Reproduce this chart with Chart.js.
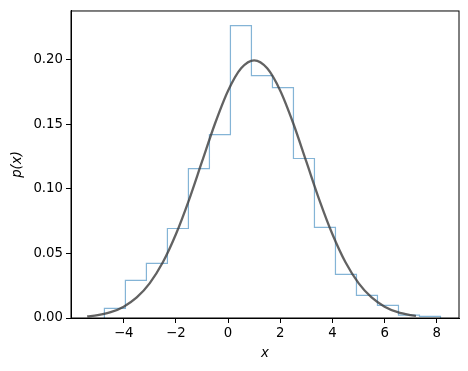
<!DOCTYPE html>
<html>
<head>
<meta charset="utf-8">
<script src="https://cdn.jsdelivr.net/npm/chart.js@4/dist/chart.umd.min.js"></script>
<style>
    html, body { margin: 0; padding: 0; background: #fff; }
    #wrap { width: 468px; height: 371px; }
</style>
</head>
<body>
<div id="wrap"><canvas id="grafico" width="468" height="371"></canvas></div>
<script>
// ====================== DADOS ======================
// bordas das classes do histograma
const binEdges = [-4.74, -3.935, -3.13, -2.325, -1.52, -0.715, 0.09, 0.895, 1.70,
                  2.505, 3.31, 4.115, 4.92, 5.725, 6.53, 7.335, 8.14];
// densidade de cada classe
const binHeights = [0.0075, 0.0291, 0.0423, 0.0693, 0.1157, 0.1420, 0.2263, 0.1876,
                    0.1783, 0.1235, 0.0701, 0.0338, 0.0175, 0.0098, 0.0023, 0.0013];

// curva de densidade
const curveX = [-5.4, -5, -4.5, -4, -3.5, -3, -2.5, -2, -1.5, -1, -0.5, 0, 0.5, 1,
                1.5, 2, 2.5, 3, 3.5, 4, 4.5, 5, 5.5, 6, 6.5, 7, 7.2];
const curveY = [0.0012, 0.0022, 0.0045, 0.0088, 0.0159, 0.0270, 0.0431, 0.0648, 0.0913,
                0.1210, 0.1506, 0.1760, 0.1933, 0.1995, 0.1933, 0.1760, 0.1506, 0.1210,
                0.0913, 0.0648, 0.0431, 0.0270, 0.0159, 0.0088, 0.0045, 0.0022, 0.0016];

const xTicks = [-4, -2, 0, 2, 4, 6, 8];
const yTicks = [0, 0.05, 0.10, 0.15, 0.20];

// ====================== MONTAGEM ======================
// contorno em degraus: sobe na borda esquerda, desce na borda direita
const histPoints = [{ x: binEdges[0], y: 0 }];
binHeights.forEach((h, i) => {
    histPoints.push({ x: binEdges[i], y: h });
    histPoints.push({ x: binEdges[i + 1], y: h });
});
histPoints.push({ x: binEdges[binEdges.length - 1], y: 0 });

const curvePoints = curveX.map((x, i) => ({ x: x, y: curveY[i] }));

const fonte = { family: "'DejaVu Sans', sans-serif", size: 13.3 };

// moldura dos quatro lados
const moldura = {
    id: "moldura",
    afterDraw(chart) {
        const a = chart.chartArea;
        const c = chart.ctx;
        c.save();
        c.strokeStyle = "#000";
        c.lineWidth = 1;
        c.strokeRect(a.left, a.top, a.right - a.left, a.bottom - a.top);
        c.restore();
    }
};

function fmtMenos(v) {
    return String(v).replace("-", "\u2212");
}

new Chart(document.getElementById("grafico"), {
    type: "scatter",
    data: {
        datasets: [
            {
                data: curvePoints,
                showLine: true,
                borderColor: "rgba(64,64,64,0.82)",
                borderWidth: 2.3,
                pointRadius: 0,
                cubicInterpolationMode: "monotone",
                order: 1
            },
            {
                data: histPoints,
                showLine: true,
                borderColor: "rgba(31,119,180,0.55)",
                borderWidth: 1.2,
                pointRadius: 0,
                tension: 0,
                order: 2
            }
        ]
    },
    options: {
        responsive: false,
        animation: false,
        layout: { padding: { top: 10, right: 9, left: 0, bottom: 0 } },
        plugins: {
            legend: { display: false },
            tooltip: { enabled: false }
        },
        scales: {
            x: {
                type: "linear",
                min: -6.02,
                max: 8.85,
                afterFit: scale => { scale.height = 53; },
                afterBuildTicks: scale => {
                    scale.ticks = xTicks.map(v => ({ value: v }));
                },
                ticks: {
                    color: "#000",
                    font: fonte,
                    padding: 3,
                    maxRotation: 0,
                    callback: v => fmtMenos(v)
                },
                grid: {
                    display: true,
                    drawOnChartArea: false,
                    drawTicks: true,
                    tickLength: 5,
                    color: "#000"
                },
                border: { display: true, color: "#000", width: 1 },
                title: {
                    display: true,
                    text: "x",
                    color: "#000",
                    font: { family: "'DejaVu Sans', sans-serif", size: 13.3, style: "italic" },
                    padding: { top: 0, bottom: 9 }
                }
            },
            y: {
                type: "linear",
                min: 0,
                max: 0.2377,
                afterFit: scale => { scale.width = 71; },
                afterBuildTicks: scale => {
                    scale.ticks = yTicks.map(v => ({ value: v }));
                },
                ticks: {
                    color: "#000",
                    font: fonte,
                    padding: 3,
                    callback: v => v.toFixed(2)
                },
                grid: {
                    display: true,
                    drawOnChartArea: false,
                    drawTicks: true,
                    tickLength: 5,
                    color: "#000"
                },
                border: { display: true, color: "#000", width: 1 },
                title: {
                    display: true,
                    text: "p(x)",
                    color: "#000",
                    font: { family: "'DejaVu Sans', sans-serif", size: 13.3, style: "italic" },
                    padding: { top: 10, bottom: 0 }
                }
            }
        }
    },
    plugins: [moldura]
});
</script>
</body>
</html>
